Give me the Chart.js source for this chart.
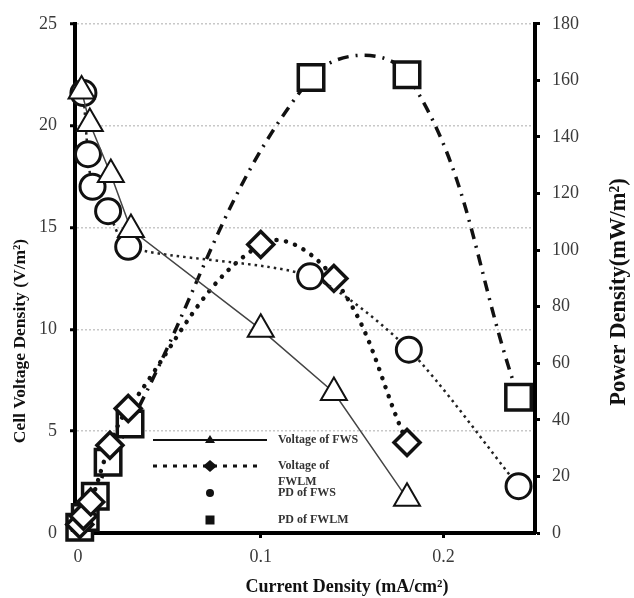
<!DOCTYPE html>
<html>
<head>
<meta charset="utf-8">
<script src="https://cdn.jsdelivr.net/npm/chart.js@4.4.0/dist/chart.umd.min.js"></script>
<style>
  html, body { margin: 0; padding: 0; background: #fff; }
  #wrap { width: 634px; height: 598px; }
</style>
</head>
<body>
<div id="wrap"><canvas id="myChart" width="634" height="598"></canvas></div>
<script>
// current density (mA/cm2) and values
const curVoltFWS = [0.002, 0.0065, 0.018, 0.029, 0.1, 0.14, 0.18];
const voltFWS = [21.7, 20.1, 17.6, 14.9, 10.0, 6.9, 1.7];

const curVoltFWLM = [0.003, 0.0055, 0.008, 0.0165, 0.0275, 0.127, 0.181, 0.241];
const voltFWLM = [21.6, 18.6, 17.0, 15.8, 14.05, 12.6, 9.0, 2.3];

const curPdFWS = [0.001, 0.003, 0.007, 0.0175, 0.0275, 0.1, 0.14, 0.18];
const pdFWS = [3, 6, 11, 31, 44, 102, 90, 32];

const curPdFWLM = [0.001, 0.004, 0.0095, 0.0165, 0.0285, 0.1275, 0.18, 0.241];
const pdFWLM = [2, 5.5, 13, 25, 38.5, 161, 162, 48];

const xTicks = [0, 0.1, 0.2];
const leftTicks = [0, 5, 10, 15, 20, 25];
const rightTicks = [0, 20, 40, 60, 80, 100, 120, 140, 160, 180];

const legendLabels = [["Voltage of FWS"], ["Voltage of", "FWLM"], ["PD of FWS"], ["PD of FWLM"]];

function pts(xs, ys) {
  return xs.map((x, i) => ({ x: x, y: ys[i] }));
}

const serif = '"Liberation Serif", "Times New Roman", serif';

// titles + legend drawn by hand
const extras = {
  id: 'extras',
  afterDraw(chart) {
    const c = chart.ctx;
    c.save();
    c.fillStyle = '#111';
    c.textAlign = 'center';
    c.textBaseline = 'middle';
    c.font = 'bold 18px ' + serif;
    c.fillText('Current Density (mA/cm²)', 347, 587);
    c.font = 'bold 17.5px ' + serif;
    c.save();
    c.translate(20, 341);
    c.rotate(-Math.PI / 2);
    c.fillText('Cell Voltage Density (V/m²)', 0, 0);
    c.restore();
    c.font = 'bold 22.5px ' + serif;
    c.save();
    c.translate(619, 292);
    c.rotate(-Math.PI / 2);
    c.fillText('Power Density(mW/m²)', 0, 0);
    c.restore();

    // legend
    const rows = [440, 466, 493, 520];
    const mx = 210;
    c.strokeStyle = '#111';
    c.fillStyle = '#111';
    // row 1 solid line + triangle
    c.lineWidth = 2;
    c.beginPath(); c.moveTo(153, rows[0]); c.lineTo(267, rows[0]); c.stroke();
    c.beginPath();
    c.moveTo(mx, rows[0] - 5); c.lineTo(mx + 5, rows[0] + 3); c.lineTo(mx - 5, rows[0] + 3);
    c.closePath(); c.fill();
    // row 2 dotted + diamond
    c.lineWidth = 3;
    c.setLineDash([4, 6]);
    c.beginPath(); c.moveTo(153, rows[1]); c.lineTo(262, rows[1]); c.stroke();
    c.setLineDash([]);
    c.beginPath();
    c.moveTo(mx, rows[1] - 6); c.lineTo(mx + 7, rows[1]); c.lineTo(mx, rows[1] + 6); c.lineTo(mx - 7, rows[1]);
    c.closePath(); c.fill();
    // row 3 dot
    c.beginPath(); c.arc(mx, rows[2], 4, 0, Math.PI * 2); c.fill();
    // row 4 square
    c.fillRect(mx - 4.5, rows[3] - 4.5, 9, 9);

    c.textAlign = 'left';
    c.font = 'bold 12px ' + serif;
    c.fillStyle = '#333';
    c.fillText(legendLabels[0][0], 278, rows[0]);
    c.fillText(legendLabels[1][0], 278, rows[1]);
    c.fillText(legendLabels[1][1], 278, rows[1] + 16);
    c.fillText(legendLabels[2][0], 278, rows[2]);
    c.fillText(legendLabels[3][0], 278, rows[3]);
    c.restore();
  }
};

const ctx = document.getElementById('myChart');

new Chart(ctx, {
  type: 'scatter',
  data: {
    datasets: [
      {
        label: legendLabels[0].join(' '),
        data: pts(curVoltFWS, voltFWS),
        yAxisID: 'y',
        showLine: true,
        borderColor: '#444',
        borderWidth: 1.5,
        tension: 0,
        pointStyle: 'triangle',
        pointRadius: 15,
        pointBorderWidth: 2,
        pointBorderColor: '#111',
        pointBackgroundColor: '#fff'
      },
      {
        label: legendLabels[1].join(' '),
        data: pts(curVoltFWLM, voltFWLM),
        yAxisID: 'y',
        showLine: true,
        borderColor: '#222',
        borderWidth: 2.5,
        borderDash: [2.5, 4],
        tension: 0.25,
        pointStyle: 'circle',
        pointRadius: 12.5,
        pointBorderWidth: 3,
        pointBorderColor: '#111',
        pointBackgroundColor: '#fff'
      },
      {
        label: legendLabels[2][0],
        data: pts(curPdFWS, pdFWS),
        yAxisID: 'y1',
        showLine: true,
        borderColor: '#111',
        borderWidth: 4.5,
        borderDash: [0.1, 9.5],
        borderCapStyle: 'round',
        tension: 0.4,
        pointStyle: 'rectRot',
        pointRadius: 13,
        pointBorderWidth: 3.5,
        pointBorderColor: '#111',
        pointBackgroundColor: '#fff'
      },
      {
        label: legendLabels[3][0],
        data: pts(curPdFWLM, pdFWLM),
        yAxisID: 'y1',
        showLine: true,
        borderColor: '#111',
        borderWidth: 3.5,
        borderDash: [11, 7, 2, 7],
        tension: 0.4,
        pointStyle: 'rect',
        pointRadius: 18,
        pointBorderWidth: 3.5,
        pointBorderColor: '#111',
        pointBackgroundColor: '#fff'
      }
    ]
  },
  options: {
    responsive: false,
    animation: false,
    clip: false,
    layout: { padding: { top: 17, left: 0, right: 0, bottom: 0 } },
    plugins: { legend: { display: false }, tooltip: { enabled: false } },
    scales: {
      x: {
        type: 'linear',
        position: 'bottom',
        min: -0.0016,
        max: 0.25,
        afterBuildTicks: s => { s.ticks = xTicks.map(v => ({ value: v })); },
        ticks: { color: '#3a3a3a', font: { family: serif, size: 18 }, padding: 8, maxRotation: 0 },
        grid: { drawOnChartArea: false, tickLength: 5, tickColor: '#000', tickWidth: 3 },
        border: { color: '#000', width: 4 },
        afterFit: s => { s.height = 65; }
      },
      y: {
        position: 'left',
        min: 0,
        max: 25,
        afterBuildTicks: s => { s.ticks = leftTicks.map(v => ({ value: v })); },
        ticks: { color: '#3a3a3a', font: { family: serif, size: 18 }, padding: 13 },
        grid: { color: '#c8c8c8', lineWidth: 1.5, tickLength: 5, tickColor: '#000', tickWidth: 3 },
        border: { color: '#000', width: 4, dash: [2, 2] },
        afterFit: s => { s.width = 75; }
      },
      y1: {
        position: 'right',
        min: 0,
        max: 180,
        afterBuildTicks: s => { s.ticks = rightTicks.map(v => ({ value: v })); },
        ticks: { color: '#3a3a3a', font: { family: serif, size: 18 }, padding: 12 },
        grid: { drawOnChartArea: false, tickLength: 5, tickColor: '#000', tickWidth: 3 },
        border: { color: '#000', width: 4 },
        afterFit: s => { s.width = 99; }
      }
    }
  },
  plugins: [extras]
});
</script>
</body>
</html>
